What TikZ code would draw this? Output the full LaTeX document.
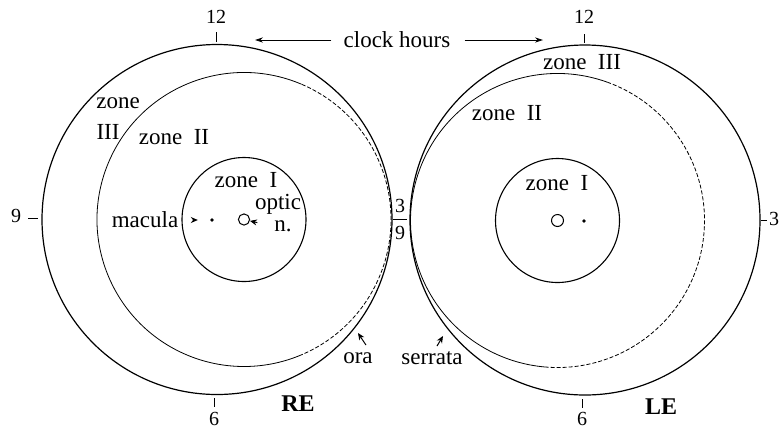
\documentclass[tikz,border=0pt]{standalone}
\usepackage{fontspec}
\setmainfont{Liberation Serif}
\usetikzlibrary{arrows.meta,positioning,calc}

\begin{document}
\begin{tikzpicture}[
  x=0.5pt, y=-0.5pt,
  font=\fontsize{11.5}{13}\selectfont,
  rim/.style     ={line width=0.6pt},
  zoneone/.style ={line width=0.55pt},
  zonetwo/.style ={line width=0.4pt},
  zonetwod/.style={zonetwo, dash pattern=on 2pt off 1pt},
  tick/.style    ={line width=0.5pt},
  hour/.style    ={font=\fontsize{10}{12}\selectfont, inner sep=1pt},
  lbl/.style     ={inner sep=1pt},
  eye/.style     ={font=\fontsize{12}{14}\selectfont\bfseries, inner sep=1pt},
  disc/.style    ={circle, draw, line width=0.5pt, inner sep=0pt, minimum size=5.6pt},
  dot/.style     ={circle, fill, inner sep=0pt, minimum size=1.8pt},
  ptr/.style     ={-{Stealth[length=3.5pt,width=3pt]}, line width=0.5pt},
  ar/.style      ={-{Stealth[length=4pt,width=2.6pt]}, line width=0.4pt},
]
\useasboundingbox (0,0) rectangle (781,430);

% ---------------------------------------------------------------- centres
\coordinate (cR) at (217,219.5);   % RE globe
\coordinate (dR) at (244,219.5);   % RE optic disc
\coordinate (cL) at (585,220);     % LE globe
\coordinate (dL) at (557.5,220.5); % LE optic disc

% ---------------------------------------------------------------- RE
\draw[rim] (cR) circle[radius=87.5pt];
\draw[zonetwo]  (dR) ++(67:73.5pt) arc[start angle=67, end angle=292, radius=73.5pt];
\draw[zonetwod] (dR) ++(-68:73.5pt) arc[start angle=-68, end angle=67, radius=73.5pt];
\draw[zoneone] (dR) circle[radius=31pt];
\node[disc] (discR) at (dR) {};
\node[dot]  (macR)  at (212,220) {};

% ---------------------------------------------------------------- LE
\draw[rim] (cL) circle[radius=87.5pt];
\draw[zonetwo]  (dL) ++(70:73.5pt) arc[start angle=70, end angle=265, radius=73.5pt];
\draw[zonetwod] (dL) ++(-95:73.5pt) arc[start angle=-95, end angle=70, radius=73.5pt];
\draw[zoneone] (dL) circle[radius=31pt];
\node[disc, minimum size=6pt] (discL) at (dL) {};
\node[dot]  (macL)  at (584,221) {};

% ---------------------------------------------------------------- clock hours
\node[hour] (twelveR) at (216,17)  {12};
\node[hour] (twelveL) at (584,17)  {12};
\node[hour] (nineR)   at (16,216)  {9};
\node[hour] (threeR)  at (400,206) {3};
\node[hour] (nineL)   at (400,233) {9};
\node[hour] (threeL)  at (774,219) {3};
\node[hour] (sixR)    at (214,419) {6};
\node[hour] (sixL)    at (582,419) {6};

\draw[tick] (216,32) -- (216,42);
\draw[tick] (584,34) -- (584,43);
\draw[tick] (28,218) -- (38,218);
\draw[tick] (393,219) -- (407,219);
\draw[tick] (761,220) -- (767,220);
\draw[tick] (214,398) -- (214,407);
\draw[tick] (582,399) -- (582,408);

\node[lbl] (clock) at (397,40) {clock hours};
\coordinate (tipR) at (255,40);
\coordinate (tipL) at (543,40);
\draw[ar, shorten <=5pt] (clock.west) -- (tipR);
\draw[ar, shorten <=6pt] (clock.east) -- (tipL);

% ---------------------------------------------------------------- RE labels
\node[lbl] (zoneIIIa) at (118,103) {zone};
\node[lbl] (zoneIIIb) at (108,132) {III};
\node[lbl] (zoneIIR)  at (174,137) {zone\ \ II};
\node[lbl] (zoneIR)   at (246,180) {zone\ \ I};
\node[lbl] (macula)   at (145,220) {macula};
\node[lbl] (optic)    at (278,204) {optic};
\node[lbl] (optn)     at (283,226) {n.};
\node[lbl] (ora)      at (358,358) {ora};
\node[eye] (RE)       at (298,404) {RE};

\draw[ptr, shorten <=6pt, shorten >=6pt] (macula.east) -- (macR);
\draw[ptr, shorten <=7.5pt] (optn.west) -- (discR);
\coordinate (oraTip) at (358,333);
\draw[ptr] ([xshift=4pt,yshift=2.5pt]ora.north) -- (oraTip);

% ---------------------------------------------------------------- LE labels
\node[lbl] (zoneIIIL) at (582,62)  {zone\ \ III};
\node[lbl] (zoneIIL)  at (507,113) {zone\ \ II};
\node[lbl] (zoneIL)   at (557,183) {zone\ \ I};
\node[lbl] (serrata)  at (432,358) {serrata};
\node[eye] (LE)       at (661,407) {LE};

\coordinate (serTip) at (443,336);
\draw[ptr] ([xshift=2.5pt,yshift=1.5pt]serrata.north) -- (serTip);

\end{tikzpicture}
\end{document}
